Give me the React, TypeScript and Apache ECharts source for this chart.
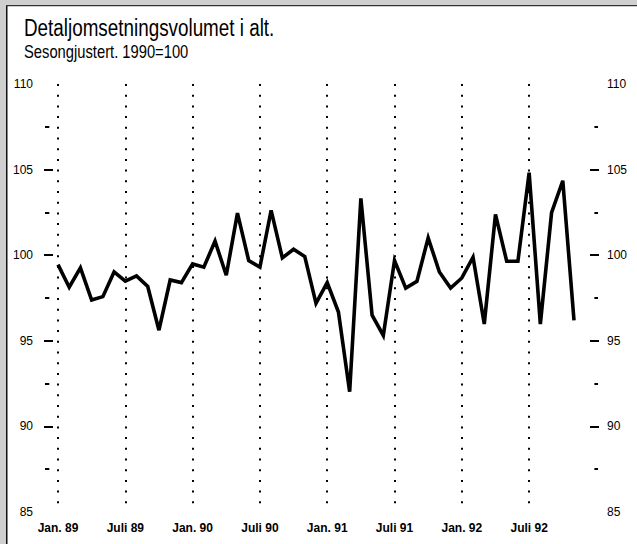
import React, { useEffect, useRef } from "react";
import * as echarts from "echarts";

const months = [
  "jan89", "feb89", "mar89", "apr89", "mai89", "jun89", "jul89", "aug89", "sep89", "okt89", "nov89", "des89",
  "jan90", "feb90", "mar90", "apr90", "mai90", "jun90", "jul90", "aug90", "sep90", "okt90", "nov90", "des90",
  "jan91", "feb91", "mar91", "apr91", "mai91", "jun91", "jul91", "aug91", "sep91", "okt91", "nov91", "des91",
  "jan92", "feb92", "mar92", "apr92", "mai92", "jun92", "jul92", "aug92", "sep92", "okt92", "nov92",
];

const volume = [
  99.45, 98.13, 99.26, 97.38, 97.58, 99.02, 98.48, 98.79, 98.17, 95.62, 98.55, 98.4,
  99.49, 99.3, 100.82, 98.83, 102.46, 99.69, 99.3, 102.62, 99.84, 100.35, 99.92, 97.19,
  98.4, 96.68, 92.03, 103.32, 96.5, 95.31, 99.69, 98.08, 98.48, 101.01, 99.02, 98.08,
  98.67, 99.88, 95.98, 102.38, 99.65, 99.65, 104.82, 95.98, 102.48, 104.35, 96.19,
];

const tickMonths = ["jan89", "jul89", "jan90", "jul90", "jan91", "jul91", "jan92", "jul92"];
const tickLabels = ["Jan. 89", "Juli 89", "Jan. 90", "Juli 90", "Jan. 91", "Juli 91", "Jan. 92", "Juli 92"];

// tick levels of the y axes (major every 5, minor in between)
const yLevels = ["85", "87.5", "90", "92.5", "95", "97.5", "100", "102.5", "105", "107.5", "110"];
const majorLevels = ["90", "95", "100", "105"];
const minorLevels = ["87.5", "92.5", "97.5", "102.5", "107.5"];

const titleText = "Detaljomsetningsvolumet i alt.";
const subtitleText = "Sesongjustert. 1990=100";

const FONT = "'Liberation Sans', Arial, Helvetica, sans-serif";

export default function App() {
  const ref = useRef<HTMLDivElement>(null);

  useEffect(() => {
    if (!ref.current) return;
    const chart = echarts.init(ref.current, undefined, { renderer: "svg" });
    const isTick = (i: number) => tickMonths.indexOf(months[i]) >= 0;

    const labelAxis = (position: string, offset: number, margin: number) => ({
      type: "value",
      position,
      offset,
      min: 85,
      max: 110,
      interval: 5,
      splitLine: { show: false },
      axisLine: { show: false },
      axisTick: { show: false },
      axisLabel: { margin, fontFamily: FONT, fontSize: 12, color: "#000" },
    });

    const tickAxis = (position: string, offset: number, levels: string[], length: number) => ({
      type: "category",
      data: yLevels,
      boundaryGap: false,
      position,
      offset,
      splitLine: { show: false },
      axisLine: { show: false },
      axisLabel: { show: false },
      axisTick: {
        show: true,
        inside: true,
        length,
        interval: (i: number) => levels.indexOf(yLevels[i]) >= 0,
        lineStyle: { color: "#000", width: 2 },
      },
    });

    chart.setOption({
      animation: false,
      backgroundColor: "#fff",
      graphic: [
        { type: "rect", shape: { x: 0, y: 0, width: 6, height: 544 }, style: { fill: "#cfcfcf" }, silent: true },
        { type: "rect", shape: { x: 0, y: 0, width: 637, height: 5 }, style: { fill: "#cfcfcf" }, silent: true },
        { type: "rect", shape: { x: 6, y: 5, width: 1.5, height: 539 }, style: { fill: "#111" }, silent: true },
        { type: "rect", shape: { x: 6, y: 5, width: 631, height: 1.3 }, style: { fill: "#333" }, silent: true },
        {
          type: "text",
          x: 24,
          y: 16,
          scaleX: 0.82,
          originX: 0,
          style: { text: titleText, fontFamily: FONT, fontSize: 23, fill: "#000", verticalAlign: "top" },
        },
        {
          type: "text",
          x: 24,
          y: 42,
          scaleX: 0.82,
          originX: 0,
          style: { text: subtitleText, fontFamily: FONT, fontSize: 18, fill: "#000", verticalAlign: "top" },
        },
      ],
      grid: { left: 58, right: 63, top: 84, bottom: 32, outerBoundsMode: "none" },
      xAxis: {
        type: "category",
        data: months,
        boundaryGap: false,
        axisLine: { show: false },
        axisTick: { show: false },
        axisLabel: {
          interval: (i: number) => isTick(i),
          formatter: (v: string) => {
            const k = tickMonths.indexOf(v);
            return k >= 0 ? tickLabels[k] : "";
          },
          margin: 10,
          fontFamily: FONT,
          fontSize: 12,
          fontWeight: "bold",
          color: "#000",
        },
        splitLine: {
          show: true,
          interval: (i: number) => isTick(i),
          lineStyle: { color: "#000", width: 2, type: [2, 8.7] },
        },
      },
      yAxis: [
        labelAxis("left", 14, 11),
        labelAxis("right", 25, 8),
        tickAxis("left", 14, majorLevels, 9),
        tickAxis("left", 13, minorLevels, 4.3),
        tickAxis("right", 25, majorLevels, 9),
        tickAxis("right", 24, minorLevels, 3.6),
      ],
      series: [
        {
          type: "line",
          data: volume,
          yAxisIndex: 0,
          symbol: "none",
          lineStyle: { color: "#000", width: 3.6, join: "miter", miterLimit: 4 },
        },
      ],
    });

    return () => chart.dispose();
  }, []);

  return (
    <div
      ref={ref}
      style={{ position: "fixed", left: 0, top: 0, width: 637, height: 544, background: "#fff" }}
    />
  );
}
